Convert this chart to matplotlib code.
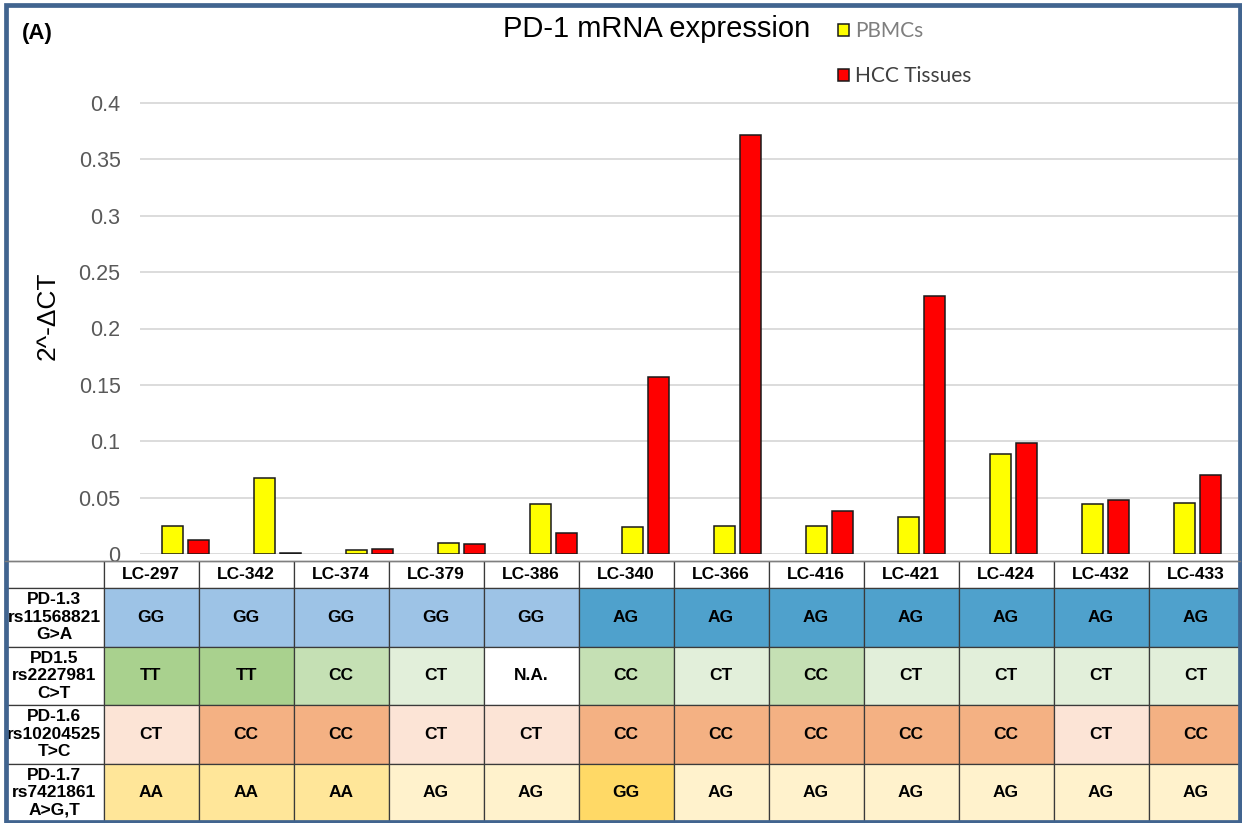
import matplotlib
matplotlib.use("Agg")
import matplotlib.pyplot as plt
from matplotlib.patches import Rectangle, Patch
import numpy as np

# ---------------- data ----------------
samples = ['LC-297', 'LC-342', 'LC-374', 'LC-379', 'LC-386', 'LC-340',
           'LC-366', 'LC-416', 'LC-421', 'LC-424', 'LC-432', 'LC-433']
pbmc = [0.025, 0.067, 0.0035, 0.0097, 0.0444, 0.0237,
        0.0246, 0.0246, 0.0328, 0.0888, 0.0444, 0.045]
hcc = [0.0127, 0.001, 0.0047, 0.0092, 0.0183, 0.1568,
       0.3716, 0.0385, 0.2284, 0.0988, 0.0479, 0.0698]
yticks = [0, 0.05, 0.1, 0.15, 0.2, 0.25, 0.3, 0.35, 0.4]
ytick_labels = ['0', '0.05', '0.1', '0.15', '0.2', '0.25', '0.3', '0.35', '0.4']

snp_labels = ['PD-1.3\nrs11568821\nG>A', 'PD1.5\nrs2227981\nC>T',
              'PD-1.6\nrs10204525\nT>C', 'PD-1.7\nrs7421861\nA>G,T']
pd13 = ['GG', 'GG', 'GG', 'GG', 'GG', 'AG', 'AG', 'AG', 'AG', 'AG', 'AG', 'AG']
pd15 = ['TT', 'TT', 'CC', 'CT', 'N.A.', 'CC', 'CT', 'CC', 'CT', 'CT', 'CT', 'CT']
pd16 = ['CT', 'CC', 'CC', 'CT', 'CT', 'CC', 'CC', 'CC', 'CC', 'CC', 'CT', 'CC']
pd17 = ['AA', 'AA', 'AA', 'AG', 'AG', 'GG', 'AG', 'AG', 'AG', 'AG', 'AG', 'AG']
genotype_rows = [pd13, pd15, pd16, pd17]

row_colors = [
    {'GG': '#9dc3e6', 'AG': '#4fa1cc'},
    {'TT': '#a9d18e', 'CC': '#c5e0b4', 'CT': '#e2efda', 'N.A.': '#ffffff'},
    {'CT': '#fce4d6', 'CC': '#f4b183'},
    {'AA': '#ffe699', 'AG': '#fff2cc', 'GG': '#ffd966'},
]

# ---------------- figure ----------------
W, H = 1242, 823
fig = plt.figure(figsize=(W / 100, H / 100), dpi=100)
fig.patch.set_facecolor('white')

def fx(px):
    return px / W

def fy(py):
    return (H - py) / H

sans = ['Liberation Sans', 'DejaVu Sans']
narrow = ['Liberation Sans Narrow', 'Liberation Sans', 'DejaVu Sans']

# bar axes
ax_left, ax_right = 140, 1238
ax_top, ax_bot = 90, 554
ax = fig.add_axes([fx(ax_left), fy(ax_bot), fx(ax_right - ax_left), (ax_bot - ax_top) / H])
cat_w = 92.0
ax.set_xlim(-0.5, -0.5 + (ax_right - ax_left) / cat_w)
ax.set_ylim(0, 0.4 * (ax_bot - ax_top) / 451.0)

x = np.arange(len(samples))
bw = 0.23
ax.bar(x - 0.143, pbmc, width=bw, color='#ffff00', edgecolor='#1a1a1a', linewidth=1.1,
       label='PBMCs', zorder=3)
ax.bar(x + 0.139, hcc, width=bw, color='#ff0000', edgecolor='#1a1a1a', linewidth=1.1,
       label='HCC Tissues', zorder=3)

ax.set_yticks(yticks)
ax.set_yticklabels(ytick_labels)
for t in ax.get_yticklabels():
    t.set_fontfamily(sans)
    t.set_fontsize(15.5)
    t.set_color('#595959')
ax.tick_params(axis='y', length=0, pad=14)
ax.tick_params(axis='x', length=0, labelbottom=False)
ax.set_xticks([])
ax.grid(axis='y', color='#d9d9d9', linewidth=1.3, zorder=0)
for s in ax.spines.values():
    s.set_visible(False)
ax.set_facecolor('none')

# title, panel label, y label
fig.text(fx(657), fy(29), 'PD-1 mRNA expression', fontsize=21, family=sans,
         ha='center', va='center', color='black')
fig.text(fx(22), fy(34), '(A)', fontsize=16, family=sans, fontweight='bold',
         ha='left', va='center', color='black')
fig.text(fx(48), fy(316), '2^-\u0394CT', fontsize=19, family=sans, rotation=90,
         ha='center', va='center', color='black')

# legend
handles = [Patch(facecolor='#ffff00', edgecolor='#1a1a1a', linewidth=1.1),
           Patch(facecolor='#ff0000', edgecolor='#1a1a1a', linewidth=1.1)]
leg = fig.legend(handles, ['PBMCs', 'HCC Tissues'], loc='upper left',
                 bbox_to_anchor=(fx(834), fy(17)), frameon=False,
                 prop={'family': ['Lato', 'DejaVu Sans'], 'size': 15},
                 handlelength=0.5, handleheight=0.5, handletextpad=0.3,
                 labelspacing=1.2, borderaxespad=0, borderpad=0.2)
leg.get_texts()[0].set_color('#7f7f7f')
leg.get_texts()[1].set_color('#404040')

# ---------------- table ----------------
tab_left, tab_top, tab_bot = 5, 561, 822
first_w, col_w = 98.5, 95.0
tab_w = first_w + col_w * len(samples)
tax = fig.add_axes([fx(tab_left), fy(tab_bot), fx(tab_w), (tab_bot - tab_top) / H])
tax.set_axis_off()

cell_text = [[''] + samples]
cell_colors = [['#ffffff'] * (len(samples) + 1)]
for lab, geno, cmap in zip(snp_labels, genotype_rows, row_colors):
    cell_text.append([lab] + geno)
    cell_colors.append(['#ffffff'] + [cmap[g] for g in geno])

col_widths = [first_w / tab_w] + [col_w / tab_w] * len(samples)
tbl = tax.table(cellText=cell_text, cellColours=cell_colors, colWidths=col_widths,
                cellLoc='center', loc='center', bbox=[0, 0, 1, 1])
tbl.auto_set_font_size(False)
row_h = [27, 58.5, 58.5, 58.5, 58.5]
for (r, c), cell in tbl.get_celld().items():
    cell.set_height(row_h[r] / sum(row_h))
    cell.set_edgecolor('#3a3a3a')
    cell.set_linewidth(0.9)
    txt = cell.get_text()
    txt.set_fontfamily(narrow)
    txt.set_fontweight('bold')
    txt.set_fontsize(12.5)
    txt.set_color('black')
    if c == 0 and r > 0:
        txt.set_linespacing(1.2)

# thin gray line across top of table
fig.add_artist(plt.Line2D([fx(5), fx(1240)], [fy(tab_top), fy(tab_top)],
                          color='#7f7f7f', linewidth=1.0))

# outer frame
fig.add_artist(Rectangle((fx(5.5), fy(821.5)), fx(1239.5 - 5.5), (821.5 - 4.5) / H,
                         fill=False, edgecolor='#41648f', linewidth=3.4))

fig.savefig('out.png', dpi=100, facecolor='white')
